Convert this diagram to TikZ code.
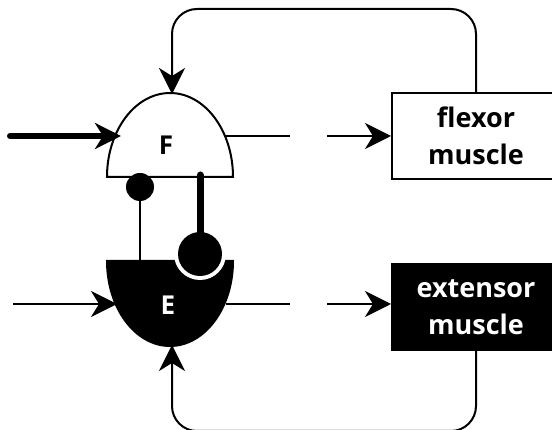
\documentclass[tikz,border=0pt]{standalone}
\usepackage{fontspec}
\setmainfont{Open Sans}
\usetikzlibrary{arrows.meta,positioning}
\tikzset{
  muscle/.style={draw, line width=2pt, minimum width=168pt, minimum height=86pt,
    inner sep=0pt, align=center, font=\fontsize{27}{37}\selectfont\bfseries},
  gate/.style={line width=2pt},
  tip/.style={-{Stealth[length=26pt,width=26pt,inset=8pt]}},
  wire/.style={line width=2pt},
  letter/.style={font=\fontsize{26}{30}\selectfont\bfseries},
}
\begin{document}
\begin{tikzpicture}[x=1pt,y=-1pt]
\useasboundingbox (0,0) rectangle (552,430);
% gates
\draw[gate, fill=white] (107,177) arc[start angle=180, end angle=360, x radius=63, y radius=84] -- cycle;
\draw[gate, fill=black] (107,261) arc[start angle=180, end angle=0, x radius=63, y radius=85] -- cycle;
\fill[white] (200,254) circle (26pt);
\node[letter] (F) at (166,145) {F};
\node[letter, text=white] (E) at (168,305) {E};
% muscles
\node[muscle] (flexor) at (476,136) {flexor\\muscle};
  \node[muscle, fill=black, text=white, below=83pt of flexor] (extensor) {extensor\\muscle};
% ports
\coordinate (Fin) at (10,136);
\coordinate (Fleft) at (121,136);
\coordinate (Fright) at (226,136);
\coordinate (Fgap) at (290,136);
\coordinate (Fgo) at (327,136);
\coordinate (Ftop) at (172,94);
\coordinate (Ein) at (13,304);
\coordinate (Eleft) at (117,304);
\coordinate (Eright) at (226,304);
\coordinate (Egap) at (290,304);
\coordinate (Ego) at (327,304);
\coordinate (Ebot) at (172,345);
\coordinate (Fball) at (140,187);
\coordinate (Etop) at (140,261);
\coordinate (Fstem) at (200,175);
\coordinate (Eball) at (200,254);
% inputs and outputs
\draw[tip, line width=6pt, line cap=round] (Fin) -- (Fleft);
\draw[tip, wire] (Ein) -- (Eleft);
\draw[wire] (Fright) -- (Fgap);
\draw[wire] (Eright) -- (Egap);
\draw[tip, wire] (Fgo) -- (Fgo -| flexor.west);
\draw[tip, wire] (Ego) -- (Ego -| extensor.west);
% feedback
\draw[tip, wire, rounded corners=25pt] (flexor.north) -- ++(0,-83) -| (Ftop);
\draw[tip, wire, rounded corners=25pt] (extensor.south) -- ++(0,80) -| (Ebot);
% inhibition
\draw[wire] (Fball) -- (Etop);
\fill (Fball) circle (14pt);
\draw[line width=7pt, line cap=round] (Fstem) -- (Eball);
\fill (Eball) circle (22pt);
\end{tikzpicture}
\end{document}
